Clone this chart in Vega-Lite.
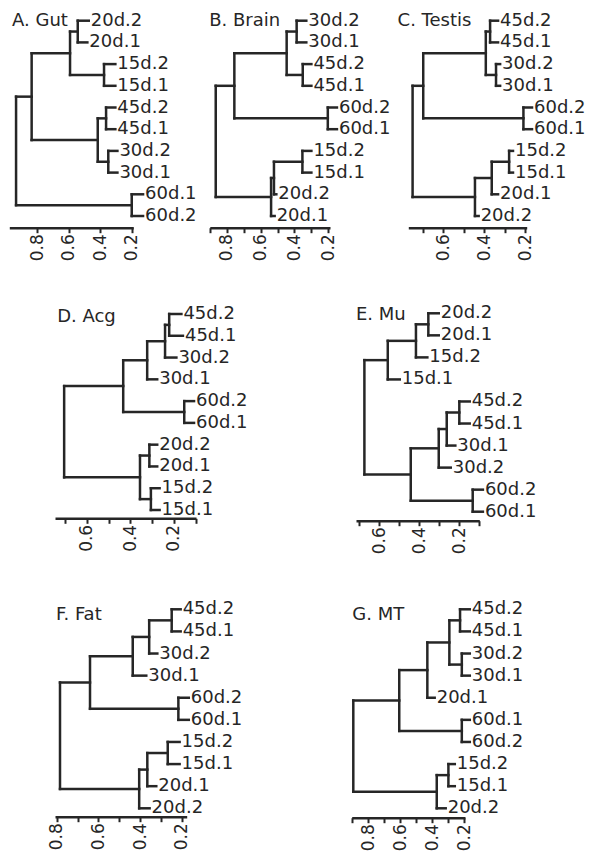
{
  "$schema": "https://vega.github.io/schema/vega-lite/v6.json",
  "width": 590,
  "height": 855,
  "autosize": {"type": "none"},
  "padding": 0,
  "background": "white",
  "config": {
    "view": {"stroke": null},
    "rule": {"strokeWidth": 2.5, "color": "#262626", "strokeCap": "square"},
    "text": {"font": "DejaVu Sans", "fontSize": 18, "color": "#262626", "align": "left", "baseline": "middle"},
    "axis": {"domainColor": "#262626", "domainWidth": 2.5, "tickColor": "#262626", "tickWidth": 2, "tickSize": 5, "labelFont": "DejaVu Sans", "labelFontSize": 17, "labelColor": "#262626", "grid": false, "labelAngle": 270, "labelPadding": 1, "labelOverlap": false, "labelFlush": false, "labelBound": false}
  },
  "datasets": {
    "A": [
      {"h": 0.543, "ph": 0.592, "y": 1.5, "ylo": 1, "yhi": 2},
      {"h": 0.376, "ph": 0.592, "y": 3.5, "ylo": 3, "yhi": 4},
      {"h": 0.592, "ph": 0.836, "y": 2.5, "ylo": 1.5, "yhi": 3.5},
      {"h": 0.363, "ph": 0.416, "y": 5.5, "ylo": 5, "yhi": 6},
      {"h": 0.349, "ph": 0.416, "y": 7.5, "ylo": 7, "yhi": 8},
      {"h": 0.416, "ph": 0.836, "y": 6.5, "ylo": 5.5, "yhi": 7.5},
      {"h": 0.836, "ph": 0.935, "y": 4.5, "ylo": 2.5, "yhi": 6.5},
      {"h": 0.2, "ph": 0.935, "y": 9.5, "ylo": 9, "yhi": 10},
      {"h": 0.935, "y": 7, "ylo": 4.5, "yhi": 9.5},
      {"h": 0.473, "ph": 0.543, "y": 1, "label": "20d.2"},
      {"h": 0.482, "ph": 0.543, "y": 2, "label": "20d.1"},
      {"h": 0.304, "ph": 0.376, "y": 3, "label": "15d.2"},
      {"h": 0.304, "ph": 0.376, "y": 4, "label": "15d.1"},
      {"h": 0.304, "ph": 0.363, "y": 5, "label": "45d.2"},
      {"h": 0.304, "ph": 0.363, "y": 6, "label": "45d.1"},
      {"h": 0.291, "ph": 0.349, "y": 7, "label": "30d.2"},
      {"h": 0.291, "ph": 0.349, "y": 8, "label": "30d.1"},
      {"h": 0.128, "ph": 0.2, "y": 9, "label": "60d.1"},
      {"h": 0.128, "ph": 0.2, "y": 10, "label": "60d.2"}
    ],
    "B": [
      {"h": 0.387, "ph": 0.446, "y": 1.5, "ylo": 1, "yhi": 2},
      {"h": 0.351, "ph": 0.446, "y": 3.5, "ylo": 3, "yhi": 4},
      {"h": 0.446, "ph": 0.755, "y": 2.5, "ylo": 1.5, "yhi": 3.5},
      {"h": 0.203, "ph": 0.755, "y": 5.5, "ylo": 5, "yhi": 6},
      {"h": 0.755, "ph": 0.865, "y": 4, "ylo": 2.5, "yhi": 5.5},
      {"h": 0.353, "ph": 0.521, "y": 7.5, "ylo": 7, "yhi": 8},
      {"h": 0.521, "ph": 0.538, "y": 8.25, "ylo": 7.5, "yhi": 9},
      {"h": 0.538, "ph": 0.865, "y": 9.125, "ylo": 8.25, "yhi": 10},
      {"h": 0.865, "y": 6.56, "ylo": 4, "yhi": 9.125},
      {"h": 0.33, "ph": 0.387, "y": 1, "label": "30d.2"},
      {"h": 0.33, "ph": 0.387, "y": 2, "label": "30d.1"},
      {"h": 0.3, "ph": 0.351, "y": 3, "label": "45d.2"},
      {"h": 0.3, "ph": 0.351, "y": 4, "label": "45d.1"},
      {"h": 0.149, "ph": 0.203, "y": 5, "label": "60d.2"},
      {"h": 0.149, "ph": 0.203, "y": 6, "label": "60d.1"},
      {"h": 0.3, "ph": 0.353, "y": 7, "label": "15d.2"},
      {"h": 0.3, "ph": 0.353, "y": 8, "label": "15d.1"},
      {"h": 0.507, "ph": 0.521, "y": 9, "label": "20d.2"},
      {"h": 0.517, "ph": 0.538, "y": 10, "label": "20d.1"}
    ],
    "C": [
      {"h": 0.371, "ph": 0.392, "y": 1.5, "ylo": 1, "yhi": 2},
      {"h": 0.342, "ph": 0.392, "y": 3.5, "ylo": 3, "yhi": 4},
      {"h": 0.392, "ph": 0.698, "y": 2.5, "ylo": 1.5, "yhi": 3.5},
      {"h": 0.208, "ph": 0.698, "y": 5.5, "ylo": 5, "yhi": 6},
      {"h": 0.698, "ph": 0.75, "y": 4, "ylo": 2.5, "yhi": 5.5},
      {"h": 0.278, "ph": 0.363, "y": 7.5, "ylo": 7, "yhi": 8},
      {"h": 0.363, "ph": 0.445, "y": 8.25, "ylo": 7.5, "yhi": 9},
      {"h": 0.445, "ph": 0.75, "y": 9.125, "ylo": 8.25, "yhi": 10},
      {"h": 0.75, "y": 6.56, "ylo": 4, "yhi": 9.125},
      {"h": 0.332, "ph": 0.371, "y": 1, "label": "45d.2"},
      {"h": 0.332, "ph": 0.371, "y": 2, "label": "45d.1"},
      {"h": 0.322, "ph": 0.342, "y": 3, "label": "30d.2"},
      {"h": 0.322, "ph": 0.342, "y": 4, "label": "30d.1"},
      {"h": 0.166, "ph": 0.208, "y": 5, "label": "60d.2"},
      {"h": 0.166, "ph": 0.208, "y": 6, "label": "60d.1"},
      {"h": 0.259, "ph": 0.278, "y": 7, "label": "15d.2"},
      {"h": 0.259, "ph": 0.278, "y": 8, "label": "15d.1"},
      {"h": 0.332, "ph": 0.363, "y": 9, "label": "20d.1"},
      {"h": 0.427, "ph": 0.445, "y": 10, "label": "20d.2"}
    ],
    "D": [
      {"h": 0.222, "ph": 0.241, "y": 1.5, "ylo": 1, "yhi": 2},
      {"h": 0.241, "ph": 0.323, "y": 2.25, "ylo": 1.5, "yhi": 3},
      {"h": 0.323, "ph": 0.433, "y": 3.125, "ylo": 2.25, "yhi": 4},
      {"h": 0.153, "ph": 0.433, "y": 5.5, "ylo": 5, "yhi": 6},
      {"h": 0.433, "ph": 0.704, "y": 4.31, "ylo": 3.125, "yhi": 5.5},
      {"h": 0.313, "ph": 0.356, "y": 7.5, "ylo": 7, "yhi": 8},
      {"h": 0.306, "ph": 0.356, "y": 9.5, "ylo": 9, "yhi": 10},
      {"h": 0.356, "ph": 0.704, "y": 8.5, "ylo": 7.5, "yhi": 9.5},
      {"h": 0.704, "y": 6.4, "ylo": 4.31, "yhi": 8.5},
      {"h": 0.166, "ph": 0.222, "y": 1, "label": "45d.2"},
      {"h": 0.159, "ph": 0.222, "y": 2, "label": "45d.1"},
      {"h": 0.189, "ph": 0.241, "y": 3, "label": "30d.2"},
      {"h": 0.277, "ph": 0.323, "y": 4, "label": "30d.1"},
      {"h": 0.108, "ph": 0.153, "y": 5, "label": "60d.2"},
      {"h": 0.108, "ph": 0.153, "y": 6, "label": "60d.1"},
      {"h": 0.277, "ph": 0.313, "y": 7, "label": "20d.2"},
      {"h": 0.277, "ph": 0.313, "y": 8, "label": "20d.1"},
      {"h": 0.266, "ph": 0.306, "y": 9, "label": "15d.2"},
      {"h": 0.266, "ph": 0.306, "y": 10, "label": "15d.1"}
    ],
    "E": [
      {"h": 0.355, "ph": 0.417, "y": 1.5, "ylo": 1, "yhi": 2},
      {"h": 0.417, "ph": 0.558, "y": 2.25, "ylo": 1.5, "yhi": 3},
      {"h": 0.558, "ph": 0.675, "y": 3.125, "ylo": 2.25, "yhi": 4},
      {"h": 0.2, "ph": 0.263, "y": 5.5, "ylo": 5, "yhi": 6},
      {"h": 0.263, "ph": 0.303, "y": 6.25, "ylo": 5.5, "yhi": 7},
      {"h": 0.303, "ph": 0.443, "y": 7.125, "ylo": 6.25, "yhi": 8},
      {"h": 0.133, "ph": 0.443, "y": 9.5, "ylo": 9, "yhi": 10},
      {"h": 0.443, "ph": 0.675, "y": 8.31, "ylo": 7.125, "yhi": 9.5},
      {"h": 0.675, "y": 5.72, "ylo": 3.125, "yhi": 8.31},
      {"h": 0.303, "ph": 0.355, "y": 1, "label": "20d.2"},
      {"h": 0.303, "ph": 0.355, "y": 2, "label": "20d.1"},
      {"h": 0.36, "ph": 0.417, "y": 3, "label": "15d.2"},
      {"h": 0.498, "ph": 0.558, "y": 4, "label": "15d.1"},
      {"h": 0.148, "ph": 0.2, "y": 5, "label": "45d.2"},
      {"h": 0.148, "ph": 0.2, "y": 6, "label": "45d.1"},
      {"h": 0.22, "ph": 0.263, "y": 7, "label": "30d.1"},
      {"h": 0.243, "ph": 0.303, "y": 8, "label": "30d.2"},
      {"h": 0.082, "ph": 0.133, "y": 9, "label": "60d.2"},
      {"h": 0.082, "ph": 0.133, "y": 10, "label": "60d.1"}
    ],
    "F": [
      {"h": 0.248, "ph": 0.356, "y": 1.5, "ylo": 1, "yhi": 2},
      {"h": 0.356, "ph": 0.435, "y": 2.25, "ylo": 1.5, "yhi": 3},
      {"h": 0.435, "ph": 0.64, "y": 3.125, "ylo": 2.25, "yhi": 4},
      {"h": 0.216, "ph": 0.64, "y": 5.5, "ylo": 5, "yhi": 6},
      {"h": 0.64, "ph": 0.784, "y": 4.31, "ylo": 3.125, "yhi": 5.5},
      {"h": 0.267, "ph": 0.365, "y": 7.5, "ylo": 7, "yhi": 8},
      {"h": 0.365, "ph": 0.404, "y": 8.25, "ylo": 7.5, "yhi": 9},
      {"h": 0.404, "ph": 0.784, "y": 9.125, "ylo": 8.25, "yhi": 10},
      {"h": 0.784, "y": 6.72, "ylo": 4.31, "yhi": 9.125},
      {"h": 0.205, "ph": 0.248, "y": 1, "label": "45d.2"},
      {"h": 0.205, "ph": 0.248, "y": 2, "label": "45d.1"},
      {"h": 0.317, "ph": 0.356, "y": 3, "label": "30d.2"},
      {"h": 0.37, "ph": 0.435, "y": 4, "label": "30d.1"},
      {"h": 0.166, "ph": 0.216, "y": 5, "label": "60d.2"},
      {"h": 0.166, "ph": 0.216, "y": 6, "label": "60d.1"},
      {"h": 0.21, "ph": 0.267, "y": 7, "label": "15d.2"},
      {"h": 0.21, "ph": 0.267, "y": 8, "label": "15d.1"},
      {"h": 0.322, "ph": 0.365, "y": 9, "label": "20d.1"},
      {"h": 0.354, "ph": 0.404, "y": 10, "label": "20d.2"}
    ],
    "G": [
      {"h": 0.225, "ph": 0.292, "y": 1.5, "ylo": 1, "yhi": 2},
      {"h": 0.214, "ph": 0.292, "y": 3.5, "ylo": 3, "yhi": 4},
      {"h": 0.292, "ph": 0.43, "y": 2.5, "ylo": 1.5, "yhi": 3.5},
      {"h": 0.43, "ph": 0.606, "y": 3.75, "ylo": 2.5, "yhi": 5},
      {"h": 0.214, "ph": 0.606, "y": 6.5, "ylo": 6, "yhi": 7},
      {"h": 0.606, "ph": 0.894, "y": 5.125, "ylo": 3.75, "yhi": 6.5},
      {"h": 0.298, "ph": 0.371, "y": 8.5, "ylo": 8, "yhi": 9},
      {"h": 0.371, "ph": 0.894, "y": 9.25, "ylo": 8.5, "yhi": 10},
      {"h": 0.894, "y": 7.19, "ylo": 5.125, "yhi": 9.25},
      {"h": 0.164, "ph": 0.225, "y": 1, "label": "45d.2"},
      {"h": 0.164, "ph": 0.225, "y": 2, "label": "45d.1"},
      {"h": 0.164, "ph": 0.214, "y": 3, "label": "30d.2"},
      {"h": 0.164, "ph": 0.214, "y": 4, "label": "30d.1"},
      {"h": 0.384, "ph": 0.43, "y": 5, "label": "20d.1"},
      {"h": 0.164, "ph": 0.214, "y": 6, "label": "60d.1"},
      {"h": 0.164, "ph": 0.214, "y": 7, "label": "60d.2"},
      {"h": 0.258, "ph": 0.298, "y": 8, "label": "15d.2"},
      {"h": 0.258, "ph": 0.298, "y": 9, "label": "15d.1"},
      {"h": 0.315, "ph": 0.371, "y": 10, "label": "20d.2"}
    ]
  },
  "layer": [
    {
      "data": {"name": "A"},
      "encoding": {
        "x": {"field": "h", "type": "quantitative", "scale": {"domain": [0.978, 0.19], "range": [9.3, 133.3], "nice": false, "zero": false}, "axis": {"orient": "bottom", "offset": -627.3, "values": [0.8, 0.6, 0.4, 0.2], "format": ".1f", "labelExpr": "abs(round(datum.value*10)) % 2 == 0 ? datum.label : ''", "title": null}},
        "y": {"field": "y", "type": "quantitative", "scale": {"domain": [1, 10], "range": [20.7, 216], "nice": false, "zero": false}, "axis": null}
      },
      "layer": [
        {"transform": [{"filter": "isValid(datum.ylo)"}], "mark": "rule", "encoding": {"y": {"field": "ylo", "type": "quantitative", "scale": {"domain": [1, 10], "range": [20.7, 216], "nice": false, "zero": false}, "axis": null}, "y2": {"field": "yhi"}}},
        {"transform": [{"filter": "isValid(datum.ph)"}], "mark": "rule", "encoding": {"x2": {"field": "ph"}}},
        {"transform": [{"filter": "isValid(datum.label)"}], "mark": {"type": "text", "dx": 2}, "encoding": {"text": {"field": "label"}}},
        {"mark": {"type": "text", "dx": -4, "dy": 0}, "encoding": {"x": {"aggregate": "max", "field": "h", "type": "quantitative", "scale": {"domain": [0.978, 0.19], "range": [9.3, 133.3], "nice": false, "zero": false}, "axis": {"orient": "bottom", "offset": -627.3, "values": [0.8, 0.6, 0.4, 0.2], "format": ".1f", "labelExpr": "abs(round(datum.value*10)) % 2 == 0 ? datum.label : ''", "title": null}}, "y": {"aggregate": "min", "field": "y", "type": "quantitative", "scale": {"domain": [1, 10], "range": [20.7, 216], "nice": false, "zero": false}, "axis": null}, "text": {"value": "A. Gut"}}}
      ]
    },
    {
      "data": {"name": "B"},
      "encoding": {
        "x": {"field": "h", "type": "quantitative", "scale": {"domain": [0.9, 0.19], "range": [209.8, 330], "nice": false, "zero": false}, "axis": {"orient": "bottom", "offset": -627.3, "values": [0.9, 0.8, 0.7, 0.6, 0.5, 0.4, 0.3, 0.2], "format": ".1f", "labelExpr": "abs(round(datum.value*10)) % 2 == 0 ? datum.label : ''", "title": null}},
        "y": {"field": "y", "type": "quantitative", "scale": {"domain": [1, 10], "range": [20.7, 216], "nice": false, "zero": false}, "axis": null}
      },
      "layer": [
        {"transform": [{"filter": "isValid(datum.ylo)"}], "mark": "rule", "encoding": {"y": {"field": "ylo", "type": "quantitative", "scale": {"domain": [1, 10], "range": [20.7, 216], "nice": false, "zero": false}, "axis": null}, "y2": {"field": "yhi"}}},
        {"transform": [{"filter": "isValid(datum.ph)"}], "mark": "rule", "encoding": {"x2": {"field": "ph"}}},
        {"transform": [{"filter": "isValid(datum.label)"}], "mark": {"type": "text", "dx": 2}, "encoding": {"text": {"field": "label"}}},
        {"mark": {"type": "text", "dx": -6.5, "dy": 0}, "encoding": {"x": {"aggregate": "max", "field": "h", "type": "quantitative", "scale": {"domain": [0.9, 0.19], "range": [209.8, 330], "nice": false, "zero": false}, "axis": {"orient": "bottom", "offset": -627.3, "values": [0.9, 0.8, 0.7, 0.6, 0.5, 0.4, 0.3, 0.2], "format": ".1f", "labelExpr": "abs(round(datum.value*10)) % 2 == 0 ? datum.label : ''", "title": null}}, "y": {"aggregate": "min", "field": "y", "type": "quantitative", "scale": {"domain": [1, 10], "range": [20.7, 216], "nice": false, "zero": false}, "axis": null}, "text": {"value": "B. Brain"}}}
      ]
    },
    {
      "data": {"name": "C"},
      "encoding": {
        "x": {"field": "h", "type": "quantitative", "scale": {"domain": [0.771, 0.192], "range": [408.3, 526.7], "nice": false, "zero": false}, "axis": {"orient": "bottom", "offset": -627.3, "values": [0.7, 0.6, 0.5, 0.4, 0.3, 0.2], "format": ".1f", "labelExpr": "abs(round(datum.value*10)) % 2 == 0 ? datum.label : ''", "title": null}},
        "y": {"field": "y", "type": "quantitative", "scale": {"domain": [1, 10], "range": [20.7, 216], "nice": false, "zero": false}, "axis": null}
      },
      "layer": [
        {"transform": [{"filter": "isValid(datum.ylo)"}], "mark": "rule", "encoding": {"y": {"field": "ylo", "type": "quantitative", "scale": {"domain": [1, 10], "range": [20.7, 216], "nice": false, "zero": false}, "axis": null}, "y2": {"field": "yhi"}}},
        {"transform": [{"filter": "isValid(datum.ph)"}], "mark": "rule", "encoding": {"x2": {"field": "ph"}}},
        {"transform": [{"filter": "isValid(datum.label)"}], "mark": {"type": "text", "dx": 2}, "encoding": {"text": {"field": "label"}}},
        {"mark": {"type": "text", "dx": -15, "dy": 0}, "encoding": {"x": {"aggregate": "max", "field": "h", "type": "quantitative", "scale": {"domain": [0.771, 0.192], "range": [408.3, 526.7], "nice": false, "zero": false}, "axis": {"orient": "bottom", "offset": -627.3, "values": [0.7, 0.6, 0.5, 0.4, 0.3, 0.2], "format": ".1f", "labelExpr": "abs(round(datum.value*10)) % 2 == 0 ? datum.label : ''", "title": null}}, "y": {"aggregate": "min", "field": "y", "type": "quantitative", "scale": {"domain": [1, 10], "range": [20.7, 216], "nice": false, "zero": false}, "axis": null}, "text": {"value": "C. Testis"}}}
      ]
    },
    {
      "data": {"name": "D"},
      "encoding": {
        "x": {"field": "h", "type": "quantitative", "scale": {"domain": [0.746, 0.099], "range": [55, 196], "nice": false, "zero": false}, "axis": {"orient": "bottom", "offset": -336.7, "values": [0.7, 0.6, 0.5, 0.4, 0.3, 0.2, 0.1], "format": ".1f", "labelExpr": "abs(round(datum.value*10)) % 2 == 0 ? datum.label : ''", "title": null}},
        "y": {"field": "y", "type": "quantitative", "scale": {"domain": [1, 10], "range": [314, 510], "nice": false, "zero": false}, "axis": null}
      },
      "layer": [
        {"transform": [{"filter": "isValid(datum.ylo)"}], "mark": "rule", "encoding": {"y": {"field": "ylo", "type": "quantitative", "scale": {"domain": [1, 10], "range": [314, 510], "nice": false, "zero": false}, "axis": null}, "y2": {"field": "yhi"}}},
        {"transform": [{"filter": "isValid(datum.ph)"}], "mark": "rule", "encoding": {"x2": {"field": "ph"}}},
        {"transform": [{"filter": "isValid(datum.label)"}], "mark": {"type": "text", "dx": 2}, "encoding": {"text": {"field": "label"}}},
        {"mark": {"type": "text", "dx": -7, "dy": 2.6}, "encoding": {"x": {"aggregate": "max", "field": "h", "type": "quantitative", "scale": {"domain": [0.746, 0.099], "range": [55, 196], "nice": false, "zero": false}, "axis": {"orient": "bottom", "offset": -336.7, "values": [0.7, 0.6, 0.5, 0.4, 0.3, 0.2, 0.1], "format": ".1f", "labelExpr": "abs(round(datum.value*10)) % 2 == 0 ? datum.label : ''", "title": null}}, "y": {"aggregate": "min", "field": "y", "type": "quantitative", "scale": {"domain": [1, 10], "range": [314, 510], "nice": false, "zero": false}, "axis": null}, "text": {"value": "D. Acg"}}}
      ]
    },
    {
      "data": {"name": "E"},
      "encoding": {
        "x": {"field": "h", "type": "quantitative", "scale": {"domain": [0.717, 0.1], "range": [356, 479.3], "nice": false, "zero": false}, "axis": {"orient": "bottom", "offset": -334.3, "values": [0.7, 0.6, 0.5, 0.4, 0.3, 0.2, 0.1], "format": ".1f", "labelExpr": "abs(round(datum.value*10)) % 2 == 0 ? datum.label : ''", "title": null}},
        "y": {"field": "y", "type": "quantitative", "scale": {"domain": [1, 10], "range": [313.3, 511.7], "nice": false, "zero": false}, "axis": null}
      },
      "layer": [
        {"transform": [{"filter": "isValid(datum.ylo)"}], "mark": "rule", "encoding": {"y": {"field": "ylo", "type": "quantitative", "scale": {"domain": [1, 10], "range": [313.3, 511.7], "nice": false, "zero": false}, "axis": null}, "y2": {"field": "yhi"}}},
        {"transform": [{"filter": "isValid(datum.ph)"}], "mark": "rule", "encoding": {"x2": {"field": "ph"}}},
        {"transform": [{"filter": "isValid(datum.label)"}], "mark": {"type": "text", "dx": 2}, "encoding": {"text": {"field": "label"}}},
        {"mark": {"type": "text", "dx": -8.5, "dy": 1.7}, "encoding": {"x": {"aggregate": "max", "field": "h", "type": "quantitative", "scale": {"domain": [0.717, 0.1], "range": [356, 479.3], "nice": false, "zero": false}, "axis": {"orient": "bottom", "offset": -334.3, "values": [0.7, 0.6, 0.5, 0.4, 0.3, 0.2, 0.1], "format": ".1f", "labelExpr": "abs(round(datum.value*10)) % 2 == 0 ? datum.label : ''", "title": null}}, "y": {"aggregate": "min", "field": "y", "type": "quantitative", "scale": {"domain": [1, 10], "range": [313.3, 511.7], "nice": false, "zero": false}, "axis": null}, "text": {"value": "E. Mu"}}}
      ]
    },
    {
      "data": {"name": "F"},
      "encoding": {
        "x": {"field": "h", "type": "quantitative", "scale": {"domain": [0.808, 0.176], "range": [55, 186.7], "nice": false, "zero": false}, "axis": {"orient": "bottom", "offset": -38.3, "values": [0.8, 0.7, 0.6, 0.5, 0.4, 0.3, 0.2], "format": ".1f", "labelExpr": "abs(round(datum.value*10)) % 2 == 0 ? datum.label : ''", "title": null}},
        "y": {"field": "y", "type": "quantitative", "scale": {"domain": [1, 10], "range": [609.3, 808.3], "nice": false, "zero": false}, "axis": null}
      },
      "layer": [
        {"transform": [{"filter": "isValid(datum.ylo)"}], "mark": "rule", "encoding": {"y": {"field": "ylo", "type": "quantitative", "scale": {"domain": [1, 10], "range": [609.3, 808.3], "nice": false, "zero": false}, "axis": null}, "y2": {"field": "yhi"}}},
        {"transform": [{"filter": "isValid(datum.ph)"}], "mark": "rule", "encoding": {"x2": {"field": "ph"}}},
        {"transform": [{"filter": "isValid(datum.label)"}], "mark": {"type": "text", "dx": 2}, "encoding": {"text": {"field": "label"}}},
        {"mark": {"type": "text", "dx": -4, "dy": 5.7}, "encoding": {"x": {"aggregate": "max", "field": "h", "type": "quantitative", "scale": {"domain": [0.808, 0.176], "range": [55, 186.7], "nice": false, "zero": false}, "axis": {"orient": "bottom", "offset": -38.3, "values": [0.8, 0.7, 0.6, 0.5, 0.4, 0.3, 0.2], "format": ".1f", "labelExpr": "abs(round(datum.value*10)) % 2 == 0 ? datum.label : ''", "title": null}}, "y": {"aggregate": "min", "field": "y", "type": "quantitative", "scale": {"domain": [1, 10], "range": [609.3, 808.3], "nice": false, "zero": false}, "axis": null}, "text": {"value": "F. Fat"}}}
      ]
    },
    {
      "data": {"name": "G"},
      "encoding": {
        "x": {"field": "h", "type": "quantitative", "scale": {"domain": [0.904, 0.194], "range": [351.7, 465], "nice": false, "zero": false}, "axis": {"orient": "bottom", "offset": -37.3, "values": [0.9, 0.8, 0.7, 0.6, 0.5, 0.4, 0.3, 0.2], "format": ".1f", "labelExpr": "abs(round(datum.value*10)) % 2 == 0 ? datum.label : ''", "title": null}},
        "y": {"field": "y", "type": "quantitative", "scale": {"domain": [1, 10], "range": [609.3, 808.3], "nice": false, "zero": false}, "axis": null}
      },
      "layer": [
        {"transform": [{"filter": "isValid(datum.ylo)"}], "mark": "rule", "encoding": {"y": {"field": "ylo", "type": "quantitative", "scale": {"domain": [1, 10], "range": [609.3, 808.3], "nice": false, "zero": false}, "axis": null}, "y2": {"field": "yhi"}}},
        {"transform": [{"filter": "isValid(datum.ph)"}], "mark": "rule", "encoding": {"x2": {"field": "ph"}}},
        {"transform": [{"filter": "isValid(datum.label)"}], "mark": {"type": "text", "dx": 2}, "encoding": {"text": {"field": "label"}}},
        {"mark": {"type": "text", "dx": -1, "dy": 5.7}, "encoding": {"x": {"aggregate": "max", "field": "h", "type": "quantitative", "scale": {"domain": [0.904, 0.194], "range": [351.7, 465], "nice": false, "zero": false}, "axis": {"orient": "bottom", "offset": -37.3, "values": [0.9, 0.8, 0.7, 0.6, 0.5, 0.4, 0.3, 0.2], "format": ".1f", "labelExpr": "abs(round(datum.value*10)) % 2 == 0 ? datum.label : ''", "title": null}}, "y": {"aggregate": "min", "field": "y", "type": "quantitative", "scale": {"domain": [1, 10], "range": [609.3, 808.3], "nice": false, "zero": false}, "axis": null}, "text": {"value": "G. MT"}}}
      ]
    }
  ],
  "resolve": {"scale": {"x": "independent", "y": "independent"}, "axis": {"x": "independent", "y": "independent"}}
}
